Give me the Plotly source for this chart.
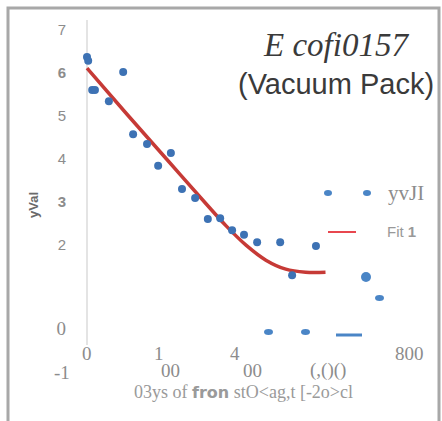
import plotly.graph_objects as go

# ---------------- data ----------------
days = [0, 3, 91, 13, 20, 55, 116, 151, 179, 211, 239, 272, 304, 335, 365, 395, 428, 486, 516, 576]
yval = [6.37, 6.28, 6.02, 5.60, 5.60, 5.34, 4.57, 4.34, 3.83, 4.13, 3.29, 3.08, 2.59, 2.61, 2.33, 2.22, 2.05, 2.05, 1.28, 1.96]

fit_days = [0, 100, 200, 300, 350, 400, 450, 500, 550, 600]
fit_val = [6.11, 5.04, 3.99, 2.94, 2.43, 1.98, 1.63, 1.42, 1.35, 1.35]

y_tick_vals = [0, 2, 3, 4, 5, 6, 7]
y_tick_text = ["<span style='font-family:Liberation Serif;font-size:19px'>0</span>", "2",
               "<b>3</b>", "4", "5", "<b>6</b>", "7"]
x_tick_vals = [0, 200, 400, 600, 800]
x_tick_line1 = ["0", "1", "4", "", "800"]
x_tick_line2 = ["", "00", "00", "(,()()", ""]

title_line1 = "E cofi0157"
title_line2 = "(Vacuum Pack)"
x_title = ("03ys of <span style='font-family:DejaVu Sans;font-weight:bold;font-size:16px'>fron</span>"
           " stO&lt;ag,t [-2o&gt;cl")
y_title = "yVal"
legend_series = "yvJI"
legend_fit = "Fit <b>1</b>"
extra_label = "-1"

# ---------------- layout helpers ----------------
W, H = 442, 421
L, R, T, B = 74, 438, 20, 345


def px(p):
    return (p - L) / (R - L)


def py(p):
    return (B - p) / (B - T)


blue = "#3d72b4"
red = "#c63a36"
grey = "#8c8c8c"
glyph = "#4a85c6"

fig = go.Figure()
fig.add_trace(go.Scatter(x=fit_days, y=fit_val, mode="lines", line=dict(color=red, width=3.5, shape="spline"),
                         showlegend=False, hoverinfo="skip"))
fig.add_trace(go.Scatter(x=days, y=yval, mode="markers", marker=dict(color=blue, size=8),
                         showlegend=False))

shapes = [
    dict(type="rect", xref="paper", yref="paper", x0=px(8), x1=px(439), y0=py(440), y1=py(8),
         line=dict(color="#a8a8a8", width=3), layer="above"),
    dict(type="circle", xref="paper", yref="paper", x0=px(324), x1=px(332), y0=py(196), y1=py(190),
         fillcolor=glyph, line=dict(width=0)),
    dict(type="circle", xref="paper", yref="paper", x0=px(363), x1=px(371), y0=py(196), y1=py(190),
         fillcolor=glyph, line=dict(width=0)),
    dict(type="line", xref="paper", yref="paper", x0=px(328), x1=px(356), y0=py(232), y1=py(232),
         line=dict(color="#e8474f", width=2)),
    dict(type="circle", xref="paper", yref="paper", x0=px(361), x1=px(371), y0=py(282), y1=py(272),
         fillcolor=glyph, line=dict(width=0)),
    dict(type="circle", xref="paper", yref="paper", x0=px(375), x1=px(384), y0=py(301), y1=py(295),
         fillcolor=glyph, line=dict(width=0)),
    dict(type="circle", xref="paper", yref="paper", x0=px(264), x1=px(273), y0=py(335), y1=py(329),
         fillcolor=glyph, line=dict(width=0)),
    dict(type="circle", xref="paper", yref="paper", x0=px(301), x1=px(310), y0=py(335), y1=py(329),
         fillcolor=glyph, line=dict(width=0)),
    dict(type="line", xref="paper", yref="paper", x0=px(336), x1=px(362), y0=py(335), y1=py(335),
         line=dict(color=glyph, width=3)),
]

annotations = [
    dict(text="<i>" + title_line1 + "</i>", xref="paper", yref="paper", x=px(336), y=py(45), showarrow=False,
         font=dict(family="Liberation Serif", size=33, color="#3a3a3a"), xanchor="center", yanchor="middle"),
    dict(text=title_line2, xref="paper", yref="paper", x=px(336), y=py(84), showarrow=False,
         font=dict(family="Liberation Sans", size=29, color="#3a3a3a"), xanchor="center", yanchor="middle"),
    dict(text=legend_series, xref="paper", yref="paper", x=px(386), y=py(193), showarrow=False,
         font=dict(family="Liberation Serif", size=21, color=grey), xanchor="left", yanchor="middle"),
    dict(text=legend_fit, xref="paper", yref="paper", x=px(385), y=py(232), showarrow=False,
         font=dict(family="Liberation Sans", size=15, color="#999999"), xanchor="left", yanchor="middle"),
    dict(text="<b>" + y_title + "</b>", xref="paper", yref="paper", x=px(33), y=py(205), showarrow=False,
         textangle=-90, font=dict(family="Liberation Sans", size=13, color="#6a6a6a"),
         xanchor="center", yanchor="middle"),
    dict(text=x_title, xref="paper", yref="paper", x=px(243), y=py(392), showarrow=False,
         font=dict(family="Liberation Serif", size=18, color="#9a9a9a"), xanchor="center", yanchor="middle"),
    dict(text=extra_label, xref="paper", yref="paper", x=px(62), y=py(372), showarrow=False,
         font=dict(family="Liberation Serif", size=19, color=grey), xanchor="center", yanchor="middle"),
]

# x tick labels (two staggered rows), placed through the x axis
shift1 = [0, -8, -11, 0, 4]
shift2 = [0, 4, 6, 2, 0]
for v, t1, t2, s1, s2 in zip(x_tick_vals, x_tick_line1, x_tick_line2, shift1, shift2):
    if t1:
        annotations.append(dict(text=t1, xref="x", yref="paper", x=v, y=py(353), xshift=s1, showarrow=False,
                                font=dict(family="Liberation Serif", size=19, color=grey),
                                xanchor="center", yanchor="middle"))
    if t2:
        annotations.append(dict(text=t2, xref="x", yref="paper", x=v, y=py(370), xshift=s2, showarrow=False,
                                font=dict(family="Liberation Serif", size=19, color=grey),
                                xanchor="center", yanchor="middle"))

fig.update_layout(
    width=W, height=H,
    margin=dict(l=L, r=W - R, t=T, b=H - B),
    paper_bgcolor="white", plot_bgcolor="white",
    showlegend=False,
    shapes=shapes,
    annotations=annotations,
    xaxis=dict(range=[(L - 87) / 0.3975, (R - 87) / 0.3975], showgrid=False, zeroline=True,
               zerolinecolor="#e4e4e4", zerolinewidth=1.5, showticklabels=False, ticks="", showline=False),
    yaxis=dict(range=[(330 - B) / 42.86, (330 - T) / 42.86], showgrid=False, zeroline=False,
               tickvals=y_tick_vals, ticktext=y_tick_text, ticks="", ticklabelstandoff=7,
               tickfont=dict(family="Liberation Sans", size=15, color=grey), showline=False),
)

fig.write_html("out.html")
